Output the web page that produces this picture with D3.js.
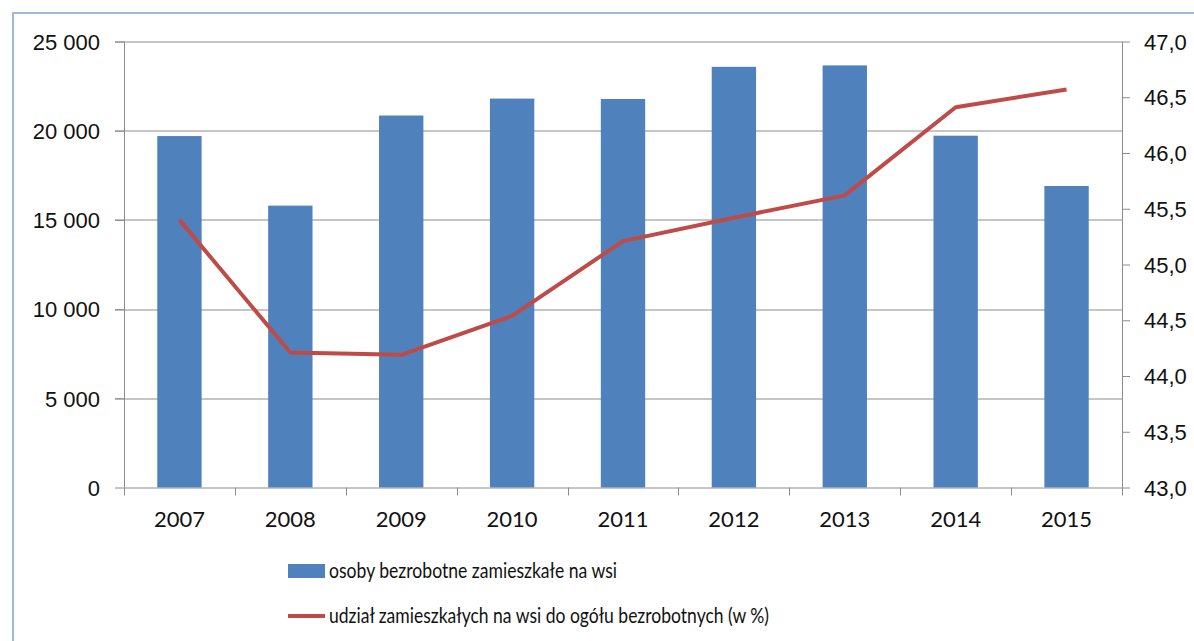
<!DOCTYPE html>
<html>
<head>
<meta charset="utf-8">
<script src="https://cdn.jsdelivr.net/npm/d3@7"></script>
<style>
body{margin:0;background:#fff;}
svg{display:block;font-family:Lato,"Open Sans",sans-serif;}
</style>
</head>
<body>
<div class="chart"></div>
<script>
// data
var years = ["2007","2008","2009","2010","2011","2012","2013","2014","2015"];
var osoby = [19700, 15800, 20850, 21800, 21780, 23580, 23660, 19720, 16900];
var udzial = [45.40, 44.21, 44.19, 44.54, 45.21, 45.42, 45.62, 46.41, 46.57];
var leftTicks = [0, 5000, 10000, 15000, 20000, 25000];
var rightTicks = [43.0, 43.5, 44.0, 44.5, 45.0, 45.5, 46.0, 46.5, 47.0];
var legendLabels = ["osoby bezrobotne zamieszkałe na wsi", "udział zamieszkałych na wsi do ogółu bezrobotnych (w %)"];
var legendWidths = [288, 440];

var W = 1194, H = 641;
var margin = {top: 41.5, left: 124, right: W - 1122, bottom: H - 487.5};
var width = W - margin.left - margin.right,
    height = H - margin.top - margin.bottom;

var svg = d3.select(".chart").append("svg")
    .attr("width", W).attr("height", H);

// outer frame
svg.append("rect")
    .attr("x", 13).attr("y", 13)
    .attr("width", 1300).attr("height", 800)
    .attr("fill", "none")
    .attr("stroke", "#a3b8d6")
    .attr("stroke-width", 2);

var g = svg.append("g").attr("transform", "translate(" + margin.left + "," + margin.top + ")");

var x = d3.scaleBand().domain(years).range([0, width]).paddingInner(0.6).paddingOuter(0.3);
var xb = d3.scaleBand().domain(years).range([0, width]);
var y = d3.scaleLinear().domain([0, 25000]).range([height, 0]);
var y2 = d3.scaleLinear().domain([43, 47]).range([height, 0]);

var fmt = function(d){ return d3.format(",")(d).replace(/,/g, " "); };

// grid lines
g.append("g").selectAll("line")
    .data(leftTicks.slice(1))
    .enter().append("line")
    .attr("x1", -9).attr("x2", width)
    .attr("y1", function(d){ return Math.round(y(d)) + 0.5; })
    .attr("y2", function(d){ return Math.round(y(d)) + 0.5; })
    .attr("stroke", "#8c8c8c").attr("stroke-width", 1);

// bars
g.selectAll("rect.bar")
    .data(osoby)
    .enter().append("rect")
    .attr("class", "bar")
    .attr("x", function(d, i){ return x(years[i]); })
    .attr("width", x.bandwidth())
    .attr("y", function(d){ return y(d); })
    .attr("height", function(d){ return height - y(d); })
    .attr("fill", "#4f81bd");

// left axis
var yAxis = d3.axisLeft(y).tickValues(leftTicks).tickFormat(fmt).tickSize(9).tickPadding(15);
var ya = g.append("g").call(yAxis);
ya.select(".domain").attr("stroke", "#8c8c8c").attr("d", "M0.5," + height + "V0");
ya.selectAll(".tick line").attr("stroke", "#8c8c8c");
ya.selectAll(".tick text").style("font-size", "22px").attr("fill", "#111").attr("dy", "0.35em");

// right axis
var y2Axis = d3.axisRight(y2).tickValues(rightTicks).tickFormat(function(d){ return d3.format(".1f")(d).replace(".", ","); }).tickSize(8).tickPadding(14);
var ya2 = g.append("g").attr("transform", "translate(" + width + ",0)").call(y2Axis);
ya2.select(".domain").attr("stroke", "#8c8c8c").attr("d", "M0.5," + height + "V0");
ya2.selectAll(".tick line").attr("stroke", "#8c8c8c");
ya2.selectAll(".tick text").style("font-size", "22px").attr("fill", "#111").attr("dy", "0.35em");

// bottom axis with ticks between categories
var xa = g.append("g").attr("transform", "translate(0," + height + ")");
xa.append("line").attr("x1", 0).attr("x2", width).attr("y1", 0.5).attr("y2", 0.5).attr("stroke", "#8c8c8c");
xa.selectAll("line.tk")
    .data(years.concat(["end"]))
    .enter().append("line")
    .attr("class", "tk")
    .attr("x1", function(d, i){ return Math.round(i * xb.bandwidth()) + 0.5; })
    .attr("x2", function(d, i){ return Math.round(i * xb.bandwidth()) + 0.5; })
    .attr("y1", 0).attr("y2", 8)
    .attr("stroke", "#8c8c8c");
xa.selectAll("text")
    .data(years)
    .enter().append("text")
    .attr("x", function(d){ return xb(d) + xb.bandwidth() / 2; })
    .attr("y", 39)
    .attr("text-anchor", "middle")
    .style("font-size", "22px")
    .attr("fill", "#111")
    .text(function(d){ return d; });

// line
var line = d3.line()
    .x(function(d, i){ return xb(years[i]) + xb.bandwidth() / 2; })
    .y(function(d){ return y2(d); });
g.append("path")
    .datum(udzial)
    .attr("d", line)
    .attr("fill", "none")
    .attr("stroke", "#be4b48")
    .attr("stroke-width", 4)
    .attr("stroke-linejoin", "round");

// legend
var lg = svg.append("g");
lg.append("rect").attr("x", 288).attr("y", 564).attr("width", 37).attr("height", 14).attr("fill", "#4f81bd");
lg.append("line").attr("x1", 288).attr("x2", 325).attr("y1", 616).attr("y2", 616)
    .attr("stroke", "#be4b48").attr("stroke-width", 4);
lg.selectAll("text")
    .data(legendLabels)
    .enter().append("text")
    .attr("x", 329)
    .attr("y", function(d, i){ return 578 + i * 45; })
    .attr("textLength", function(d, i){ return legendWidths[i]; })
    .attr("lengthAdjust", "spacingAndGlyphs")
    .style("font-size", "22px")
    .attr("fill", "#111")
    .text(function(d){ return d; });
</script>
</body>
</html>
